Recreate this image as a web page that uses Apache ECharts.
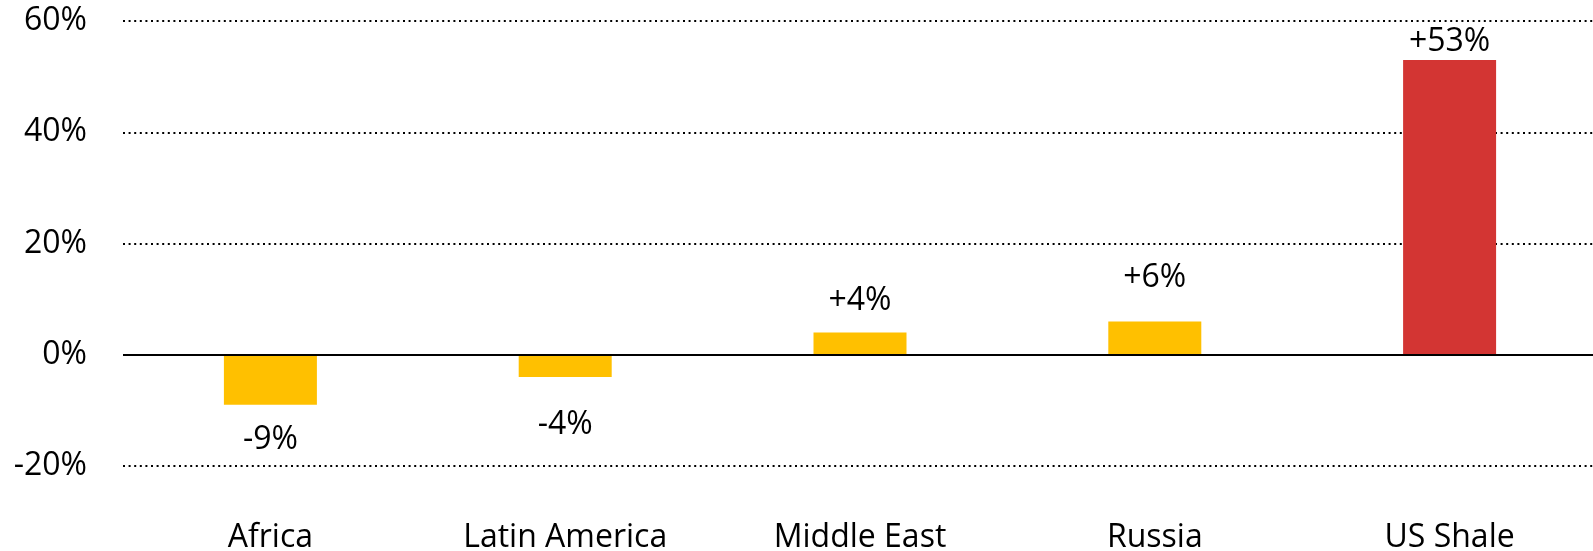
<!DOCTYPE html>
<html>
<head>
<meta charset="utf-8">
<script src="https://cdn.jsdelivr.net/npm/echarts@6/dist/echarts.min.js"></script>
<style>
  html, body { margin: 0; padding: 0; background: #fff; }
  #chart { width: 1593px; height: 551px; }
</style>
</head>
<body>
<div id="chart"></div>
<script>
// Production change by region
const categories = ['Africa', 'Latin America', 'Middle East', 'Russia', 'US Shale'];
const changes = [-9, -4, 4, 6, 53];
const yTicks = [-20, 0, 20, 40, 60];

const YELLOW = '#FFC000';
const RED = '#D33533';
const FONT = '"Open Sans"';
const FONT_SIZE = 32;
const labelDistance = [19, 32, 16, 27, 2];

const seriesData = changes.map((v, i) => ({
  value: v,
  itemStyle: { color: categories[i] === 'US Shale' ? RED : YELLOW },
  label: {
    position: v < 0 ? 'bottom' : 'top',
    distance: labelDistance[i]
  }
}));

const chart = echarts.init(document.getElementById('chart'));
chart.setOption({
  animation: false,
  grid: { left: 123, right: -4, top: 21, bottom: 85, outerBoundsMode: 'none' },
  xAxis: {
    type: 'category',
    data: categories,
    axisLine: { show: false },
    axisTick: { show: false },
    axisLabel: { color: '#000', fontFamily: FONT, fontSize: FONT_SIZE, margin: 56 }
  },
  yAxis: {
    type: 'value',
    min: yTicks[0],
    max: yTicks[yTicks.length - 1],
    interval: 20,
    axisLine: { show: false },
    axisTick: { show: false },
    axisLabel: {
      color: '#000', fontFamily: FONT, fontSize: FONT_SIZE, margin: 36,
      formatter: v => v + '%'
    },
    splitLine: {
      lineStyle: { color: '#000', width: 2, type: [2, 3.6] }
    }
  },
  series: [{
    type: 'bar',
    data: seriesData,
    barWidth: 93,
    label: {
      show: true,
      color: '#000',
      fontFamily: FONT,
      fontSize: FONT_SIZE,
      formatter: p => (p.value > 0 ? '+' : '') + p.value + '%'
    },
    markLine: {
      silent: true,
      symbol: 'none',
      label: { show: false },
      lineStyle: { color: '#000', width: 2, type: 'solid' },
      data: [{ yAxis: 0 }]
    }
  }]
});
</script>
</body>
</html>
